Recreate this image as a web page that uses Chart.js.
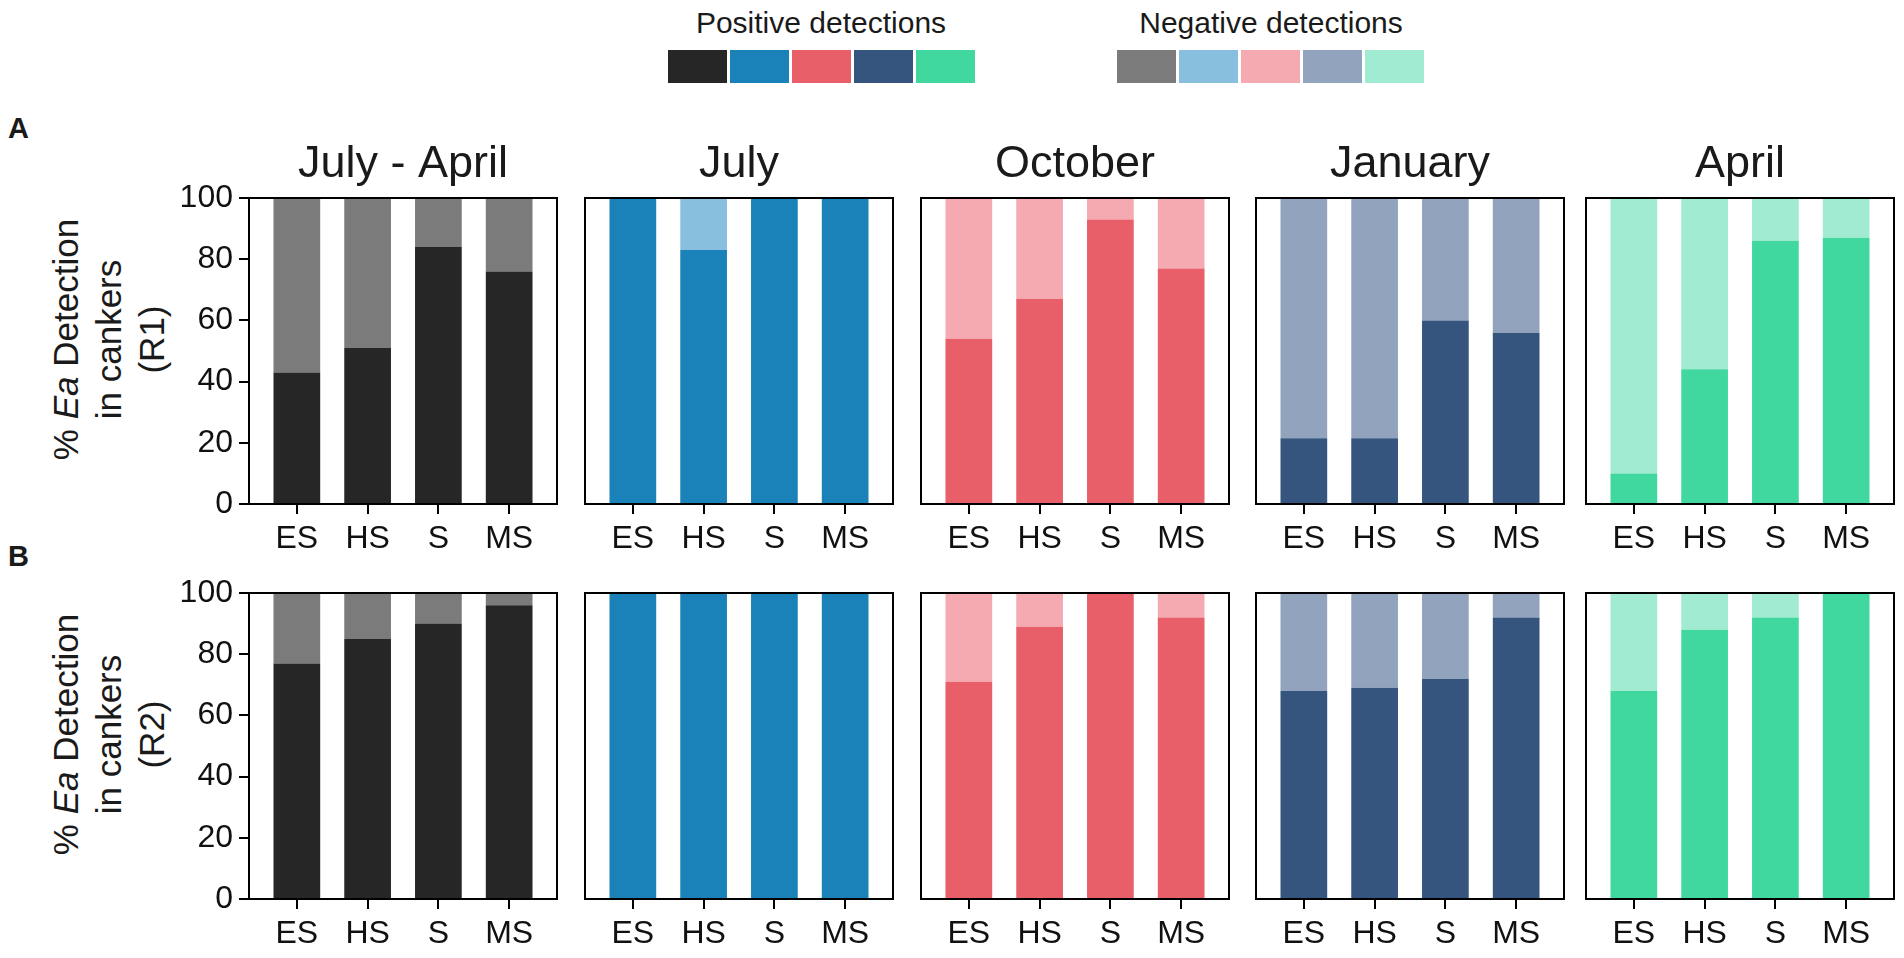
<!DOCTYPE html>
<html><head><meta charset="utf-8">
<script src="https://cdn.jsdelivr.net/npm/chart.js@4.4.1/dist/chart.umd.min.js"></script>
<style>
html,body{margin:0;padding:0;background:#fff;}
#wrap{position:relative;width:1904px;height:958px;overflow:hidden;font-family:"Liberation Sans",Arial,Helvetica,sans-serif;color:#1a1a1a;}
canvas{position:absolute;}
.lgtxt{position:absolute;font-size:30px;line-height:30px;white-space:nowrap;transform:translateX(-50%);}
.sw{position:absolute;width:59px;height:33px;}
.tag{position:absolute;font-weight:bold;font-size:29px;line-height:29px;}
.ytitle{position:absolute;width:340px;height:129px;line-height:43px;font-size:35px;text-align:center;transform:rotate(-90deg);white-space:nowrap;}
</style></head><body><div id="wrap"></div>
<script>
// ---- categories / labels ----
const groups = ['ES', 'HS', 'S', 'MS'];
const periods = ['July - April', 'July', 'October', 'January', 'April'];
const rowTags = ['A', 'B'];
const rowNames = ['(R1)', '(R2)'];
const legendPosTitle = 'Positive detections';
const legendNegTitle = 'Negative detections';
const posColors = ['#262626', '#1b82b9', '#e85f69', '#35547e', '#40d89f'];
const negColors = ['#7b7b7b', '#89bfde', '#f4aab0', '#92a4bd', '#a0ebd1'];
const yTicks = [0, 20, 40, 60, 80, 100];

// ---- values: R1 (row A) ----
const posR1JulApr = [43, 51, 84, 76];
const negR1JulApr = [57, 49, 16, 24];
const posR1Jul = [100, 83, 100, 100];
const negR1Jul = [0, 17, 0, 0];
const posR1Oct = [54, 67, 93, 77];
const negR1Oct = [46, 33, 7, 23];
const posR1Jan = [21.5, 21.5, 60, 56];
const negR1Jan = [78.5, 78.5, 40, 44];
const posR1Apr = [10, 44, 86, 87];
const negR1Apr = [90, 56, 14, 13];

// ---- values: R2 (row B) ----
const posR2JulApr = [77, 85, 90, 96];
const negR2JulApr = [23, 15, 10, 4];
const posR2Jul = [100, 100, 100, 100];
const negR2Jul = [0, 0, 0, 0];
const posR2Oct = [71, 89, 100, 92];
const negR2Oct = [29, 11, 0, 8];
const posR2Jan = [68, 69, 72, 92];
const negR2Jan = [32, 31, 28, 8];
const posR2Apr = [68, 88, 92, 100];
const negR2Apr = [32, 12, 8, 0];

const rowsPos = [
  [posR1JulApr, posR1Jul, posR1Oct, posR1Jan, posR1Apr],
  [posR2JulApr, posR2Jul, posR2Oct, posR2Jan, posR2Apr]
];
const rowsNeg = [
  [negR1JulApr, negR1Jul, negR1Oct, negR1Jan, negR1Apr],
  [negR2JulApr, negR2Jul, negR2Oct, negR2Jan, negR2Apr]
];

// ---- layout ----
const FONT = '"Liberation Sans", Arial, Helvetica, sans-serif';
const panelLefts = [249, 585, 921, 1256, 1586];
const panelW = 308;
const rowTops = [198, 593];
const panelH = 306;
const M = 80, T = 60, B = 60;
const wrap = document.getElementById('wrap');

// legend (HTML)
function addLegend(title, cx, x0, colors) {
  const t = document.createElement('div');
  t.className = 'lgtxt'; t.textContent = title;
  t.style.left = cx + 'px'; t.style.top = '8px';
  wrap.appendChild(t);
  colors.forEach((c, k) => {
    const s = document.createElement('div');
    s.className = 'sw'; s.style.background = c;
    s.style.left = (x0 + k * 62) + 'px'; s.style.top = '50px';
    wrap.appendChild(s);
  });
}
addLegend(legendPosTitle, 821, 668, posColors);
addLegend(legendNegTitle, 1271, 1117, negColors);

// row tags and y titles
rowTags.forEach((tag, r) => {
  const d = document.createElement('div');
  d.className = 'tag'; d.textContent = tag;
  d.style.left = '8px'; d.style.top = (r === 0 ? 114 : 542) + 'px';
  wrap.appendChild(d);
  const y = document.createElement('div');
  y.className = 'ytitle';
  y.innerHTML = '% <i>Ea</i> Detection<br>in cankers<br>' + rowNames[r];
  const cy = rowTops[r] + 141;
  y.style.left = (108 - 170) + 'px'; y.style.top = (cy - 64.5) + 'px';
  wrap.appendChild(y);
});

const framePlugin = {
  id: 'frame',
  afterDatasetsDraw(chart) {
    const a = chart.chartArea, c = chart.ctx;
    c.save(); c.strokeStyle = '#000'; c.lineWidth = 2;
    c.strokeRect(a.left, a.top, a.right - a.left, a.bottom - a.top);
    c.restore();
  }
};
const titlePlugin = {
  id: 'panelTitle',
  afterDraw(chart, args, opts) {
    if (!opts || !opts.text) return;
    const a = chart.chartArea, c = chart.ctx;
    c.save(); c.font = '45px ' + FONT; c.fillStyle = '#1a1a1a';
    c.textAlign = 'center'; c.textBaseline = 'alphabetic';
    c.fillText(opts.text, (a.left + a.right) / 2, a.top - 21);
    c.restore();
  }
};

for (let r = 0; r < 2; r++) {
  for (let p = 0; p < 5; p++) {
    const cv = document.createElement('canvas');
    const W = panelW + 2 * M, H = T + panelH + B;
    cv.width = W; cv.height = H;
    cv.style.width = W + 'px'; cv.style.height = H + 'px';
    cv.style.left = (panelLefts[p] - M) + 'px';
    cv.style.top = (rowTops[r] - T) + 'px';
    wrap.appendChild(cv);
    const first = p === 0;
    new Chart(cv, {
      type: 'bar',
      data: {
        datasets: [
          { label: 'Positive', data: rowsPos[r][p].map((v, i) => ({ x: i, y: v })),
            backgroundColor: posColors[p], borderWidth: 0, barPercentage: 0.66, categoryPercentage: 1 },
          { label: 'Negative', data: rowsNeg[r][p].map((v, i) => ({ x: i, y: v })),
            backgroundColor: negColors[p], borderWidth: 0, barPercentage: 0.66, categoryPercentage: 1 }
        ]
      },
      options: {
        responsive: false, animation: false,
        layout: { padding: { left: 0, right: M, top: T, bottom: 0 } },
        plugins: {
          legend: { display: false }, tooltip: { enabled: false },
          panelTitle: { text: r === 0 ? periods[p] : '' }
        },
        scales: {
          x: {
            type: 'linear', min: -0.676, max: 3.676, stacked: true, offset: false,
            afterBuildTicks: s => { s.ticks = groups.map((g, i) => ({ value: i })); },
            afterFit: s => { s.height = B; },
            ticks: { callback: v => groups[v] ?? '', font: { size: 32, family: FONT }, color: '#111',
                     padding: 6, autoSkip: false, maxRotation: 0 },
            grid: { display: true, offset: false, drawOnChartArea: false, drawTicks: true, tickLength: 10,
                    color: '#000', lineWidth: 2 },
            border: { display: true, color: '#000', width: 2 }
          },
          y: {
            display: first, min: 0, max: 100, stacked: true,
            afterBuildTicks: s => { s.ticks = yTicks.map(v => ({ value: v })); },
            afterFit: s => { s.width = M; },
            ticks: { font: { size: 32, family: FONT }, color: '#111', padding: 6 },
            grid: { drawOnChartArea: false, drawTicks: true, tickLength: 10, color: '#000', lineWidth: 2 },
            border: { display: true, color: '#000', width: 2 }
          }
        }
      },
      plugins: [framePlugin, titlePlugin]
    });
  }
}
</script></body></html>
